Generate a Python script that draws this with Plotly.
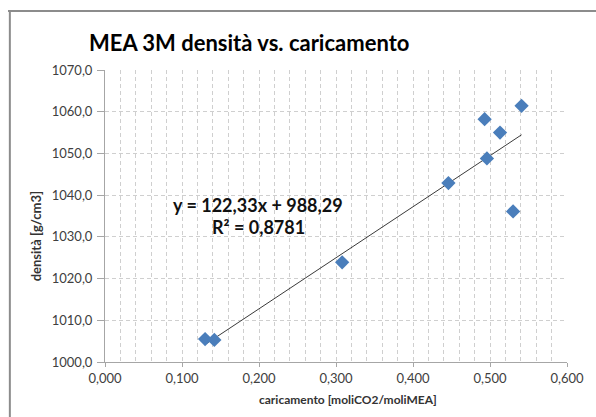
import plotly.graph_objects as go

# Data
caricamento = [0.130, 0.142, 0.308, 0.446, 0.493, 0.496, 0.513, 0.530, 0.541]
densita = [1005.5, 1005.3, 1023.9, 1042.9, 1058.2, 1048.8, 1055.0, 1036.1, 1061.4]

# Linear trendline coefficients (from the chart's equation)
slope = 122.33
intercept = 988.29
r2 = 0.8781

x_ticks = [0.0, 0.1, 0.2, 0.3, 0.4, 0.5, 0.6]
y_ticks = [1000, 1010, 1020, 1030, 1040, 1050, 1060, 1070]

FONT = "Lato"
W, H = 596, 417
L, R, T, B = 105, 20, 70, 55

x_lo, x_hi = min(caricamento), max(caricamento)
trend_x = [x_lo, x_hi]
trend_y = [slope * v + intercept for v in trend_x]

fig = go.Figure()
fig.add_trace(go.Scatter(x=trend_x, y=trend_y, mode="lines",
                         line=dict(color="#3a3a3a", width=1), hoverinfo="skip",
                         showlegend=False))
fig.add_trace(go.Scatter(x=caricamento, y=densita, mode="markers",
                         marker=dict(symbol="diamond", size=11, color="#4A7EBB",
                                     line=dict(width=0)),
                         showlegend=False))

pw = W - L - R
ph = H - T - B

fig.update_layout(
    width=W, height=H,
    margin=dict(l=L, r=R, t=T, b=B),
    paper_bgcolor="white", plot_bgcolor="white",
    separators=",.",
    font=dict(family=FONT, color="#333333", size=13),
    showlegend=False,
    xaxis=dict(range=[0, 0.6], tickvals=x_ticks, tickformat=".3f",
               showgrid=True, gridcolor="#cfcfcf", griddash="4px,3px", gridwidth=1,
               minor=dict(dtick=0.02, showgrid=True, gridcolor="#cfcfcf",
                          griddash="4px,3px", gridwidth=1),
               showline=True, linecolor="#a6a6a6", linewidth=1,
               ticks="outside", ticklen=4, tickcolor="#a6a6a6",
               zeroline=False, tickfont=dict(size=13, color="#404040")),
    yaxis=dict(range=[1000, 1070], tickvals=y_ticks, tickformat=".1f",
               showgrid=True, gridcolor="#cfcfcf", griddash="4px,3px", gridwidth=1,
               showline=True, linecolor="#a6a6a6", linewidth=1,
               ticks="outside", ticklen=7, tickcolor="#a6a6a6",
               ticklabelstandoff=2,
               zeroline=False, tickfont=dict(size=13, color="#404040")),
)

def px_x(p):
    return (p - L) / pw

def px_y(p):
    return (H - B - p) / ph

# Chart frame: left edge drawn as a Plotly shape
border = dict(color="#8c8c8c", width=2)
fig.add_shape(type="line", xref="paper", yref="paper",
              x0=px_x(8), x1=px_x(8), y0=px_y(11), y1=px_y(H + 5), line=border)

# Title
fig.add_annotation(text="<b>MEA 3M densità vs. caricamento</b>", xref="paper", yref="paper",
                   x=px_x(252), y=px_y(42), showarrow=False,
                   font=dict(size=22, color="#000000", family=FONT),
                   xanchor="center", yanchor="middle")
# Axis titles
fig.add_annotation(text="<b>caricamento [moliCO2/moliMEA]</b>", xref="paper", yref="paper",
                   x=px_x(353), y=px_y(399), showarrow=False,
                   font=dict(size=12, color="#333333", family=FONT),
                   xanchor="center", yanchor="middle")
fig.add_annotation(text="<b>densità [g/cm3]</b>", xref="paper", yref="paper",
                   x=px_x(35), y=px_y(236), showarrow=False, textangle=-90,
                   font=dict(size=13, color="#333333", family=FONT),
                   xanchor="center", yanchor="middle")
# Trendline equation
fig.add_annotation(text=f"<b>y = {slope:.2f}x + {intercept:.2f}</b>".replace(".", ","),
                   xref="paper", yref="paper",
                   x=px_x(261), y=px_y(205), showarrow=False,
                   font=dict(size=18, color="#111111", family=FONT),
                   xanchor="center", yanchor="middle")
fig.add_annotation(text=f"<b>R² = {r2:.4f}</b>".replace(".", ","),
                   xref="paper", yref="paper",
                   x=px_x(261), y=px_y(227), showarrow=False,
                   font=dict(size=18, color="#111111", family=FONT),
                   xanchor="center", yanchor="middle")

# Top edge of the frame as a page overlay (Plotly shapes near the top edge did not render)
post = (
    "document.body.style.margin='0';"
    "document.body.style.overflow='hidden';"
    "var d=document.createElement('div');"
    "d.style.position='absolute';d.style.left='8px';d.style.top='10px';"
    "d.style.width='600px';d.style.height='0';"
    "d.style.borderTop='2px solid #8c8c8c';d.style.pointerEvents='none';"
    "d.style.zIndex='10';"
    "document.body.appendChild(d);"
)

fig.write_html("out.html", config={"displayModeBar": False}, post_script=post)
